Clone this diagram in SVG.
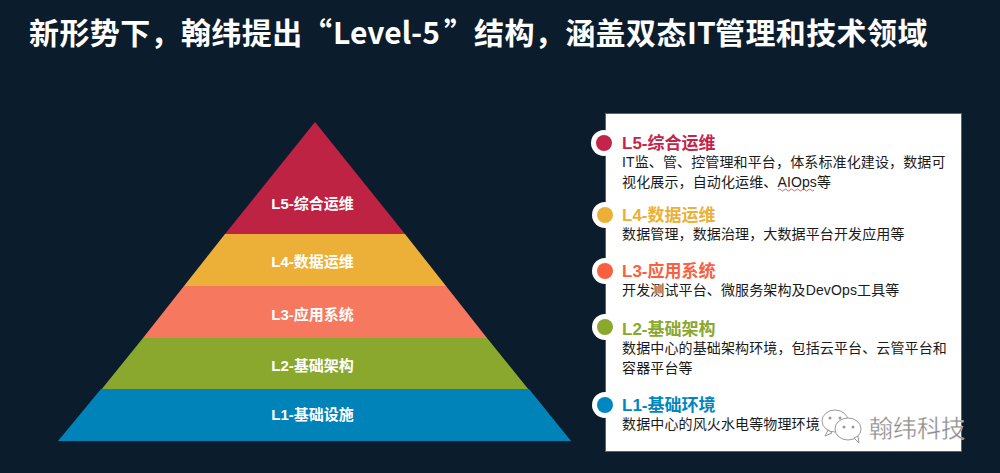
<svg xmlns="http://www.w3.org/2000/svg" width="1000" height="473" viewBox="0 0 1000 473">
<style>
text{font-family:"Noto Sans CJK SC","Liberation Sans",sans-serif}
.title{font-size:30px;font-weight:700;fill:#fff}
.pl{font-family:"Liberation Sans","Noto Sans CJK SC",sans-serif;font-size:15px;font-weight:700;fill:#fff;text-anchor:middle}
.h{font-family:"Liberation Sans","Noto Sans CJK SC",sans-serif;font-size:17px;font-weight:700}
.d{font-family:"Liberation Sans","Noto Sans CJK SC",sans-serif;font-size:14px;letter-spacing:.13px;fill:#1a1a1a}
.halo{fill:#fff}
.wm{font-size:24px;fill:#8c8c8c;stroke:#fff;stroke-width:.3px}
.wi{fill:#fff;stroke:#9a9a9a;stroke-width:1}
</style>
<rect width="1000" height="473" fill="#0b1c2c"/>
<text class="title" y="44" letter-spacing=".4"><tspan x="29">新形势下，翰纬提出</tspan><tspan x="302">“</tspan><tspan x="333" letter-spacing="0">Level-5</tspan><tspan x="444">”</tspan><tspan x="474">结构，涵盖双态</tspan><tspan x="687" letter-spacing="0">IT</tspan><tspan x="715">管理和技术领域</tspan></text>
<g id="pyramid">
<g id="p5"><polygon points="315,122 405,234 225,234" fill="#bf2344"/><text class="pl" x="312.500" y="209">L5-综合运维</text></g>
<g id="p4"><polygon points="225,234 405,234 446,286 184,286" fill="#ecb038"/><text class="pl" x="312.500" y="267">L4-数据运维</text></g>
<g id="p3"><polygon points="184,286 446,286 487,338 143,338" fill="#f5785f"/><text class="pl" x="312.500" y="320">L3-应用系统</text></g>
<g id="p2"><polygon points="143,338 487,338 529,390 101,390" fill="#8aa82e"/><text class="pl" x="312.500" y="371">L2-基础架构</text></g>
<g id="p1"><polygon points="101,389 529,389 571,441 58,441" fill="#0083b9"/><text class="pl" x="312.500" y="420">L1-基础设施</text></g>
</g>
<g id="panel"><rect x="605.500" y="113.500" width="356" height="338" fill="#fff" stroke="#0083b9" stroke-width="1"/></g>
<g id="l5"><circle class="halo" cx="604" cy="143" r="13"/><circle cx="604" cy="143" r="8" fill="#c4244a"/>
<text class="h" x="622" y="149" fill="#c4244a">L5-综合运维</text>
<text class="d" x="622" y="167">IT监、管、控管理和平台，体系标准化建设，数据可</text>
<text class="d" x="622" y="187">视化展示，自动化运维、AIOps等</text>
<path d="M778 190q1.500-2 3 0t3 0 3 0 3 0 3 0 3 0 3 0 3 0 3 0 3 0 3 0 3 0" fill="none" stroke="#e53935" stroke-width=".8"/></g>
<g id="l4"><circle class="halo" cx="605" cy="215" r="13"/><circle cx="605" cy="215" r="8" fill="#ecb038"/>
<text class="h" x="622" y="221" fill="#ecb038">L4-数据运维</text>
<text class="d" x="622" y="239">数据管理，数据治理，大数据平台开发应用等</text></g>
<g id="l3"><circle class="halo" cx="605" cy="271" r="13"/><circle cx="605" cy="271" r="8" fill="#f9603f"/>
<text class="h" x="622" y="277" fill="#f9603f">L3-应用系统</text>
<text class="d" x="622" y="295">开发测试平台、微服务架构及DevOps工具等</text></g>
<g id="l2"><circle class="halo" cx="605" cy="327" r="13"/><circle cx="605" cy="327" r="8" fill="#8aa82e"/>
<text class="h" x="622" y="335" fill="#8aa82e">L2-基础架构</text>
<text class="d" x="622" y="353">数据中心的基础架构环境，包括云平台、云管平台和</text>
<text class="d" x="622" y="373">容器平台等</text></g>
<g id="l1"><circle class="halo" cx="605" cy="405" r="13"/><circle cx="605" cy="405" r="8" fill="#0086c0"/>
<text class="h" x="622" y="411" fill="#0086c0">L1-基础环境</text>
<text class="d" x="622" y="429">数据中心的风火水电等物理环境</text></g>
<g id="watermark">
<ellipse class="wi" cx="835" cy="421" rx="13" ry="11"/>
<path class="wi" d="M828 430l-3 6 7-3z"/>
<ellipse class="wi" cx="848" cy="429" rx="13" ry="11"/>
<path class="wi" d="M854 438l5 5-1-7z"/>
<circle cx="830" cy="418" r="1.500" fill="#999"/><circle cx="840" cy="418" r="1.500" fill="#999"/>
<circle cx="844" cy="427" r="1.500" fill="#999"/><circle cx="853" cy="427" r="1.500" fill="#999"/>
<text class="wm" x="869" y="437">翰纬科技</text>
</g>
</svg>
